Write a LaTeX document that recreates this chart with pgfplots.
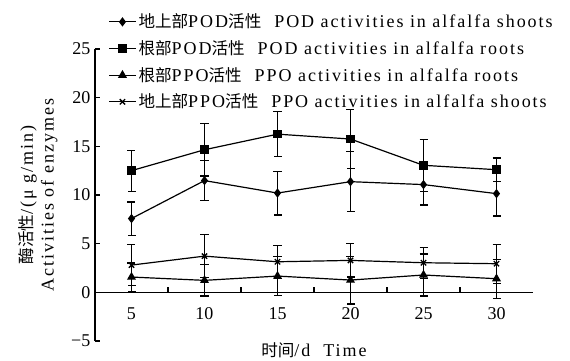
\documentclass[border=0pt]{standalone}
\usepackage{fontspec}
\setmainfont{Liberation Serif}
\newfontfamily\cjk{Noto Sans CJK SC}[Scale=0.92]
\usepackage{pgfplots}
\pgfplotsset{compat=1.18}
\newcommand{\zh}[1]{{\cjk #1}}
\newcommand{\lsp}{\addfontfeatures{LetterSpace=11}}
\begin{document}
\begin{tikzpicture}
\begin{axis}[
  name=ax,
  scale only axis, width=328.5pt, height=219pt,
  xmin=2.5, xmax=32.5, ymin=-5, ymax=25,
  axis x line*=middle, axis y line*=left,
  axis line style={line width=0.9pt},
  xtick={5,10,15,20,25,30},
  minor x tick num=1,
  ytick={-5,0,5,10,15,20,25},
  yticklabels={−5,0,5,10,15,20,25},
  tick align=inside,
  major tick length=4pt, minor tick length=4pt,
  tick style={line width=0.9pt, black},
  tick label style={font=\fontsize{13.5}{14}\selectfont},
  /pgf/number format/assume math mode=true,
  x tick label style={yshift=-8pt},
  xlabel={\zh{时间}/d\ \ Time},
  xlabel style={at={(axis description cs:0.5,0)}, anchor=north, inner sep=0pt, yshift=-1pt, font=\fontsize{13.5}{14}\selectfont\lsp},
  ylabel={\zh{酶活性}/(μ g/min)\\Activities of enzymes},
  ylabel style={at={(axis description cs:-0.075,0.5)}, rotate=0, anchor=south, align=center, font=\fontsize{13.5}{15.5}\selectfont\lsp},
  legend style={at={(axis description cs:0.03,1.128)}, anchor=north west, draw=none, fill=none,
     font=\fontsize{13.5}{14}\selectfont\lsp, row sep=5pt, inner sep=0pt, nodes={inner sep=1.5pt}},
  legend cell align=left,
  legend image code/.code={\draw[mark repeat=2,mark phase=2] plot coordinates {(0cm,0cm) (0.355cm,0cm) (0.71cm,0cm)};},
  error bars/error bar style={line width=0.9pt, black},
  error bars/error mark options={rotate=90, mark size=3pt, line width=0.9pt, black},
  clip=false,
]
\addplot[black, line width=0.9pt, mark=diamond*, mark size=2.8pt, mark options={solid, fill=black}, error bars/.cd, y dir=both, y explicit]
  coordinates {(5,7.58) +- (0,1.7) (10,11.48) +- (0,2.05) (15,10.2) +- (0,2.25) (20,11.37) +- (0,3.1) (25,11.07) +- (0,2.1) (30,10.14) +- (0,2.3)};
\addlegendentry{\zh{地上部}POD\zh{活性}\ \ POD activities in alfalfa shoots}
\addplot[black, line width=0.9pt, mark=square*, mark size=2.8pt, mark options={solid, fill=black}, error bars/.cd, y dir=both, y explicit]
  coordinates {(5,12.5) +- (0,2.1) (10,14.65) +- (0,2.7) (15,16.25) +- (0,2.3) (20,15.75) +- (0,3.0) (25,13.05) +- (0,2.65) (30,12.6) +- (0,1.2)};
\addlegendentry{\zh{根部}POD\zh{活性}\ \ POD activities in alfalfa roots}
\addplot[black, line width=0.9pt, mark=triangle*, mark size=3pt, mark options={solid, fill=black}, error bars/.cd, y dir=both, y explicit]
  coordinates {(5,1.57) +- (0,1.45) (10,1.23) +- (0,1.6) (15,1.67) +- (0,2.0) (20,1.26) +- (0,2.45) (25,1.78) +- (0,2.15) (30,1.4) +- (0,2.0)};
\addlegendentry{\zh{根部}PPO\zh{活性}\ \ PPO activities in alfalfa roots}
\addplot[black, line width=0.9pt, mark=x, mark size=2.8pt, mark options={solid, line width=1pt}, error bars/.cd, y dir=both, y explicit]
  coordinates {(5,2.8) +- (0,2.1) (10,3.72) +- (0,2.2) (15,3.14) +- (0,1.7) (20,3.28) +- (0,1.7) (25,3.04) +- (0,1.6) (30,2.94) +- (0,2.0)};
\addlegendentry{\zh{地上部}PPO\zh{活性}\ \ PPO activities in alfalfa shoots}
\end{axis}
\pgfresetboundingbox
\path[use as bounding box] (-71.25pt,-14.25pt) rectangle (356.25pt,255.75pt);
\end{tikzpicture}
\end{document}
